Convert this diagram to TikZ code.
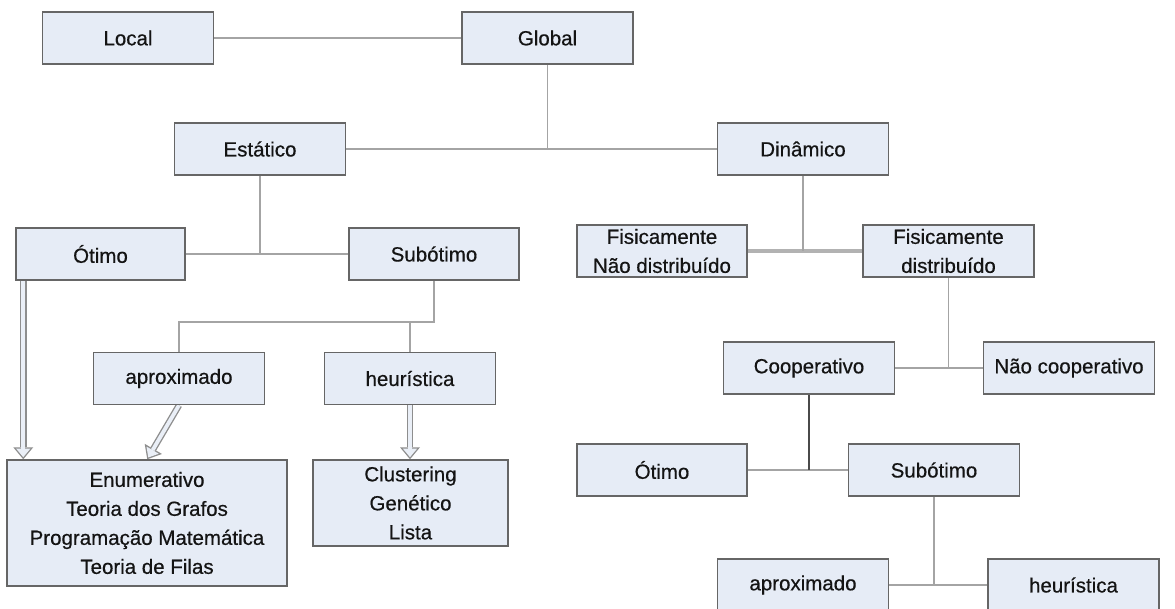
\documentclass[tikz,border=0pt]{standalone}
\usepackage{fontspec}
\setmainfont{Liberation Sans}
\newfontfamily\labelfont[FakeBold=0.5]{Liberation Sans}
\usetikzlibrary{arrows.meta,calc,backgrounds}

\definecolor{boxfill}{HTML}{E6ECF6}
\definecolor{boxline}{HTML}{666666}
\definecolor{conn}{HTML}{A4A4A4}
\definecolor{conndark}{HTML}{4A4A4A}
\definecolor{arrowline}{HTML}{8E8E8E}
\definecolor{arrowfill}{HTML}{EAEFF7}
\definecolor{labeltext}{HTML}{141414}

\tikzset{
  box/.style={draw=boxline, fill=boxfill, line width=1.5pt,
    minimum width=171pt, minimum height=52pt, inner sep=0pt,
    align=center, text=labeltext,
    font=\labelfont\fontsize{20.5}{29}\selectfont},
  link/.style={draw=conn, line width=1.5pt},
  darklink/.style={draw=conndark, line width=1.5pt},
  doublelink/.style={draw=conn!85, line width=4pt},
  % hollow block arrow: grey body with a light interior drawn on top
  arrowouter/.style={draw=arrowline, line width=6.5pt,
    -{Triangle[length=12pt, width=20pt, line width=0pt, color=arrowline]}},
  arrowinner/.style={draw=arrowfill, line width=3.8pt, shorten >=2.1pt,
    -{Triangle[length=8.5pt, width=14.2pt, line width=0pt, color=arrowfill]}},
}

\begin{document}
\begin{tikzpicture}[x=1pt, y=-1pt]
\clip (0,0) rectangle (1175,608);

% boxes
\node[box] (local) at (128,38) {Local};
\node[box] (global) at (547.5,38) {Global};
\node[box] (estatico) at (260,149) {Estático};
\node[box] (dinamico) at (803,149) {Dinâmico};

\node[box, minimum width=169pt] (otimoA) at (100.5,254) {Ótimo};
\node[box, minimum width=170pt] (subotimoA) at (434,254) {Subótimo};
\node[box] (aproxA) at (179,378.5) {aproximado};
\node[box] (heurA) at (410,378.5) {heurística};
\node[box, minimum width=280pt, minimum height=126pt] (enum) at (147,523)
  {Enumerativo\\Teoria dos Grafos\\Programação Matemática\\Teoria de Filas};
\node[box, minimum width=195pt, minimum height=86pt] (clust) at (410.5,503)
  {Clustering\\Genético\\Lista};

\node[box, minimum width=170pt] (fisnd) at (662,251) {Fisicamente\\Não distribuído};
\node[box] (fisd) at (948.5,251) {Fisicamente\\distribuído};
\node[box] (coop) at (809,368) {Cooperativo};
\node[box] (naocoop) at (1069,368) {Não cooperativo};
\node[box, minimum width=170pt] (otimoB) at (662,470) {Ótimo};
\node[box] (subotimoB) at (934,470) {Subótimo};
\node[box] (aproxB) at (803,585) {aproximado};
\node[box] (heurB) at (1073.5,585) {heurística};

% junction points and arrow ends
\coordinate (busA) at ($(subotimoA.south)+(0,41)$);
\coordinate (otimoOut) at ($(otimoA.south west)+(8,0)$);
\coordinate (enumInA) at (otimoOut |- enum.north);
\coordinate (enumInB) at ($(enum.north west)+(141,0)$);
\coordinate (clustIn) at (heurA.south |- clust.north);

\begin{pgfonlayer}{background}
\fill[white] (0,0) rectangle (1175,608);

% tree connectors
\draw[link] (local) -- (global);
\draw[link] (estatico) -- (dinamico);
\draw[link] (global.south) -- (global.south |- estatico.east);
\draw[link] (otimoA) -- (subotimoA);
\draw[link] (estatico.south) -- (estatico.south |- otimoA.east);
\draw[link] (subotimoA.south) -- (busA) -- (busA -| aproxA.north) -- (aproxA.north);
\draw[link] (busA -| heurA.north) -- (heurA.north);

\draw[doublelink] (fisnd) -- (fisd);
\draw[link] (dinamico.south) -- (dinamico.south |- fisnd.east);
\draw[link] (coop) -- (naocoop);
\draw[link] (fisd.south) -- (fisd.south |- coop.east);
\draw[link] (otimoB) -- (subotimoB);
\draw[darklink] (coop.south) -- (coop.south |- otimoB.east);
\draw[link] (aproxB) -- (heurB);
\draw[link] (subotimoB.south) -- (subotimoB.south |- aproxB.east);

% hollow arrows into the method boxes
\draw[arrowouter] (otimoOut) -- (enumInA);
\draw[arrowinner] (otimoOut) -- (enumInA);
\draw[arrowouter] (aproxA.south) -- (enumInB);
\draw[arrowinner] (aproxA.south) -- (enumInB);
\draw[arrowouter] (heurA.south) -- (clustIn);
\draw[arrowinner] (heurA.south) -- (clustIn);
\end{pgfonlayer}
\end{tikzpicture}
\end{document}
